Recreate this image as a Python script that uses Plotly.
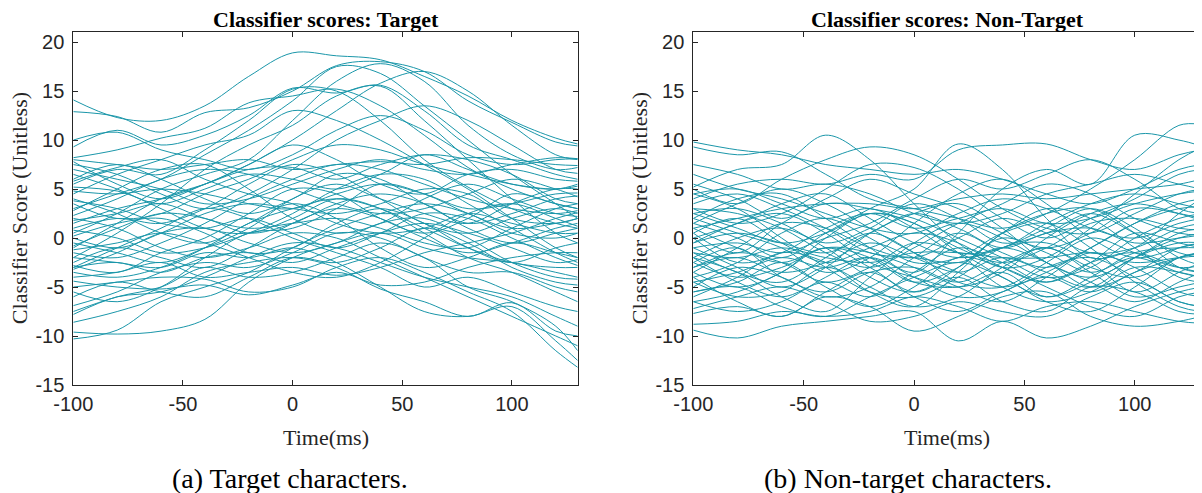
import plotly.graph_objects as go

# ---------------- data ----------------
time_ms = [-100, -80, -60, -40, -20, 0, 20, 40, 60, 80, 100, 120, 130]

# Target characters: classifier scores per trial
t01 = [14.1, 12.3, 12.0, 13.5, 16.5, 18.9, 18.6, 18.2, 16.5, 14.5, 12.0, 10.2, 9.6]
t02 = [12.9, 12.4, 10.8, 12.8, 13.3, 15.0, 17.6, 18.0, 17.0, 14.0, 11.8, 9.8, 9.4]
t03 = [9.3, 11.0, 9.5, 10.5, 12.5, 15.3, 14.8, 15.6, 13.0, 9.5, 8.0, 6.5, 6.0]
t04 = [8.2, 9.0, 10.2, 11.2, 13.8, 14.5, 15.2, 13.5, 10.5, 7.2, 5.0, 3.5, 3.0]
t05 = [5.5, 7.0, 6.5, 9.0, 12.0, 15.2, 15.0, 12.0, 8.0, 5.2, 3.0, 1.5, 1.0]
t06 = [3.0, 4.5, 6.0, 8.5, 11.0, 14.0, 17.5, 16.8, 13.5, 10.0, 6.5, 3.5, 2.0]
t07 = [0.5, 2.5, 5.0, 6.5, 8.0, 12.0, 16.0, 17.8, 16.0, 11.5, 8.5, 7.0, 7.2]
t08 = [-2.0, 0.5, 3.5, 7.0, 9.5, 11.5, 14.5, 15.5, 12.0, 8.0, 4.0, 0.5, -0.5]
t09 = [1.5, 3.0, 4.0, 5.5, 7.5, 10.0, 13.0, 15.8, 17.0, 15.0, 11.5, 8.5, 8.0]
t10 = [4.5, 6.5, 8.0, 9.5, 10.5, 13.0, 12.0, 10.0, 7.5, 5.0, 2.0, -1.0, -2.0]
t11 = [8.0, 7.5, 7.0, 7.5, 8.0, 7.0, 7.5, 7.8, 7.5, 8.2, 8.0, 7.5, 7.4]
t12 = [7.0, 6.0, 5.0, 3.5, 4.0, 5.5, 7.0, 8.0, 7.0, 6.5, 7.5, 8.2, 8.1]
t13 = [5.2, 4.8, 3.5, 5.0, 6.5, 6.0, 5.0, 6.5, 8.5, 7.0, 5.5, 5.0, 5.5]
t14 = [4.8, 4.5, 5.0, 4.5, 3.5, 3.0, 4.5, 5.5, 4.5, 3.0, 3.5, 4.5, 4.6]
t15 = [2.3, 4.0, 6.0, 7.0, 6.5, 5.0, 3.5, 2.5, 3.0, 4.5, 6.0, 5.0, 4.2]
t16 = [1.0, 2.0, 1.5, 3.0, 5.5, 7.5, 6.5, 4.0, 1.5, 0.5, 2.0, 3.0, 2.5]
t17 = [0.0, -1.0, 0.5, 2.5, 3.5, 3.0, 2.5, 3.5, 5.0, 4.5, 2.0, 1.5, 2.0]
t18 = [-0.8, 1.0, 2.5, 2.0, 0.5, 1.5, 3.5, 4.5, 3.5, 1.0, -0.5, 0.5, 1.0]
t19 = [-1.5, -2.0, -0.5, 1.5, 4.0, 6.0, 7.5, 7.0, 5.5, 4.0, 3.0, 2.5, 2.8]
t20 = [-2.5, -1.0, -2.0, -3.0, -1.0, 1.5, 3.0, 2.0, 0.0, -1.5, -0.5, 1.0, 1.5]
t21 = [-3.0, -2.5, -3.5, -2.0, -1.5, -2.5, -1.0, 0.5, 1.5, 0.5, -1.0, -2.5, -2.2]
t22 = [-3.2, -1.5, 0.5, 1.0, -0.5, -1.5, -0.5, 1.5, 2.0, 0.0, -2.5, -4.0, -4.2]
t23 = [-3.5, -4.0, -3.0, -1.0, 1.5, 3.0, 4.0, 3.0, 1.0, -1.0, -2.5, -3.0, -3.0]
t24 = [-4.0, -3.5, -2.5, -4.0, -3.5, -3.0, -3.8, -3.0, -1.5, -0.5, 0.5, 2.0, 2.6]
t25 = [-4.4, -5.0, -5.2, -4.8, -5.8, -4.8, -3.5, -4.8, -4.5, -3.0, -2.0, -1.5, -1.5]
t26 = [-6.9, -5.5, -3.5, -2.5, -3.0, -1.5, 0.5, 0.0, -2.0, -3.5, -3.5, -5.0, -5.5]
t27 = [-7.8, -6.0, -5.5, -4.0, -2.0, -0.5, -1.0, -2.5, -4.0, -5.0, -6.0, -8.0, -9.0]
t28 = [-8.6, -7.5, -6.0, -3.5, -2.5, -2.0, -3.0, -5.2, -6.5, -8.0, -6.6, -9.5, -10.0]
t29 = [-9.6, -9.8, -9.5, -8.3, -4.5, -2.0, -0.5, 0.5, -1.0, -2.0, -2.5, -3.5, -4.0]
t30 = [-10.3, -9.4, -6.5, -5.0, -3.5, -1.0, 1.0, 2.5, 3.5, 2.5, 0.5, 0.0, 0.5]
t31 = [-7.5, -6.0, -5.0, -3.0, -4.0, -3.5, -2.0, -0.5, -2.0, -5.0, -6.5, -9.0, -11.5]
t32 = [-5.0, -4.5, -4.0, -4.2, -5.5, -5.0, -3.0, -2.0, -3.5, -5.5, -7.5, -11.5, -13.2]
t33 = [-2.0, -2.5, -3.0, -1.5, -2.0, -1.0, -2.5, -5.0, -7.5, -8.0, -7.0, -10.5, -12.5]
t34 = [2.0, 1.0, -1.0, -2.0, -1.0, 0.5, 0.0, -2.0, -4.0, -6.0, -8.0, -10.0, -11.0]
t35 = [6.5, 5.0, 3.0, 1.0, 0.5, 2.0, 4.0, 3.0, 0.5, -2.0, -3.5, -5.5, -6.5]
t36 = [3.5, 2.0, 2.5, 4.5, 6.0, 8.0, 9.5, 9.0, 7.5, 6.5, 5.5, 5.0, 5.3]
t37 = [-1.0, 1.5, 4.0, 5.5, 7.0, 7.2, 6.0, 7.5, 8.5, 8.0, 6.5, 4.0, 3.5]
t38 = [5.8, 7.2, 8.0, 6.0, 4.5, 3.5, 1.5, 0.5, 1.0, 2.5, 1.5, 0.5, 0.5]
t39 = [0.8, 0.0, -1.5, -1.0, 0.5, 2.5, 5.0, 6.5, 6.0, 3.5, 1.0, -1.5, -2.5]
t40 = [-1.2, -0.5, 0.5, -0.5, -2.0, -3.5, -4.0, -2.5, 0.0, 2.5, 3.5, 2.0, 1.2]
t41 = [3.8, 3.0, 1.5, 1.0, 2.0, 0.5, -1.0, 0.5, 2.5, 2.0, 0.0, -2.0, -2.8]
t42 = [-3.0, -1.0, 1.0, 3.0, 2.0, 0.0, -1.5, -3.0, -5.0, -4.0, -5.5, -7.0, -7.5]
t43 = [1.8, 2.5, 3.5, 2.0, 1.0, 1.5, 2.0, 1.0, -0.5, -1.0, 1.0, 3.0, 3.5]
t44 = [-0.5, -1.5, -2.5, -1.0, 1.0, 4.0, 5.5, 4.0, 2.5, 1.5, 3.5, 5.0, 5.0]
t45 = [10.0, 10.8, 9.0, 8.0, 7.0, 8.5, 11.0, 12.5, 11.0, 8.5, 7.5, 8.0, 8.1]
t46 = [7.5, 6.5, 4.5, 3.0, 4.5, 7.0, 10.0, 12.0, 13.5, 12.0, 9.5, 7.0, 6.6]
t47 = [6.0, 7.5, 6.0, 4.0, 2.5, 4.0, 6.5, 6.0, 3.5, 1.5, 2.5, 4.0, 4.3]
t48 = [-2.8, -3.5, -1.5, 0.0, 2.5, 5.0, 4.5, 2.0, 0.5, 2.0, 4.5, 3.5, 3.0]
t49 = [4.0, 2.5, 0.5, -0.5, 1.5, 3.5, 2.0, -1.0, -3.0, -2.0, -0.5, -1.5, -2.0]
t50 = [-5.5, -6.5, -5.0, -2.0, 0.5, 1.0, 3.0, 5.5, 4.5, 2.5, 1.0, 1.5, 2.0]
t51 = [7.8, 5.5, 4.0, 5.5, 7.5, 9.5, 8.0, 5.5, 4.5, 6.5, 7.0, 6.0, 5.8]
t52 = [0.2, 1.5, 2.0, 0.5, -1.5, -1.0, 1.5, 3.0, 1.5, -1.0, -2.5, -1.0, -0.5]
t53 = [-6.0, -4.5, -5.5, -6.0, -4.0, -2.0, -2.5, -1.0, 1.0, -0.5, -3.0, -4.5, -4.8]
t54 = [2.8, 5.0, 7.0, 7.5, 5.0, 2.0, 0.5, 1.5, 4.0, 5.5, 4.0, 2.5, 2.2]

# Non-target characters: classifier scores per trial
n01 = [9.8, 9.0, 8.5, 7.5, 7.0, 6.5, 7.0, 6.0, 4.5, 3.5, 5.0, 7.0, 7.5]
n02 = [9.3, 8.5, 8.8, 6.5, 4.0, 3.0, 2.0, 1.0, 2.5, 5.0, 8.0, 11.5, 11.6]
n03 = [5.2, 7.0, 7.5, 10.5, 8.0, 3.5, -0.5, -3.0, -2.0, 1.0, 4.5, 8.0, 9.2]
n04 = [5.0, 3.5, 6.0, 8.0, 9.3, 8.5, 6.0, 3.0, 1.0, 0.5, 2.5, 4.5, 5.0]
n05 = [4.0, 5.5, 6.0, 5.5, 6.5, 6.0, 9.0, 9.5, 9.6, 8.0, 7.0, 8.5, 9.0]
n06 = [2.0, 4.0, 4.5, 2.0, -1.0, -3.5, 0.5, 5.0, 7.0, 5.5, 10.5, 10.0, 9.4]
n07 = [1.5, 0.0, -2.0, 0.5, 3.0, 5.0, 9.6, 7.0, 2.0, -2.0, -1.0, 2.5, 4.0]
n08 = [3.0, 2.5, 1.0, -1.5, -3.0, -1.0, 1.5, 3.5, 5.5, 4.5, 2.0, 0.5, 0.3]
n09 = [0.5, -1.5, 1.5, 3.5, 3.0, 2.0, 0.0, -2.0, -4.0, -3.0, 0.0, 2.0, 2.5]
n10 = [-0.5, 1.5, 2.5, 0.5, -2.5, -4.0, -5.0, -3.5, 0.0, 2.5, 3.5, 2.5, 1.8]
n11 = [-1.0, -3.0, -5.0, -3.0, 0.5, 2.5, 3.5, 1.0, -2.5, -4.0, -2.0, 0.5, 1.0]
n12 = [-2.0, 0.0, 1.0, -1.0, -4.0, -5.5, -3.0, 0.5, 3.0, 2.0, -1.0, -4.0, -4.5]
n13 = [-3.0, -1.5, -2.5, -4.5, -3.0, -0.5, -1.5, -4.0, -6.0, -4.5, -2.0, -0.5, -0.5]
n14 = [-2.5, -4.0, -3.0, -1.0, -1.5, -3.0, -5.0, -6.5, -4.0, -1.5, -3.0, -5.5, -6.0]
n15 = [-4.0, -2.5, 0.5, 2.0, 0.0, -2.5, -2.0, 0.5, 1.5, -1.0, -4.5, -7.0, -7.5]
n16 = [-4.5, -6.0, -5.5, -3.0, -5.0, -7.0, -6.0, -3.0, -1.0, -3.5, -6.0, -5.0, -4.5]
n17 = [-5.5, -5.0, -7.0, -8.0, -6.0, -4.0, -2.5, -4.0, -6.5, -7.5, -5.0, -2.0, -1.5]
n18 = [-7.2, -6.0, -5.0, -6.5, -8.5, -8.0, -6.5, -7.5, -8.0, -6.0, -4.5, -6.5, -7.0]
n19 = [-7.7, -7.0, -8.0, -6.0, -7.0, -9.5, -8.0, -6.0, -5.5, -8.0, -9.0, -8.5, -8.0]
n20 = [-9.4, -10.2, -9.0, -8.5, -8.0, -7.5, -10.5, -8.5, -10.2, -9.0, -7.0, -5.5, -5.0]
n21 = [-8.8, -8.5, -7.5, -8.0, -7.5, -6.0, -7.0, -8.5, -7.0, -6.5, -7.5, -8.5, -8.7]
n22 = [1.0, 2.0, 3.0, 3.5, 3.5, 3.0, 4.0, 4.5, 4.0, 4.5, 5.0, 5.5, 6.0]
n23 = [2.5, 1.0, -0.5, 0.5, 2.5, 1.5, -1.0, -2.5, -1.0, 1.5, 2.0, 1.0, 0.8]
n24 = [-1.5, -2.0, -1.0, -2.0, -2.5, -1.5, -1.5, -2.0, -2.0, -1.5, -2.5, -2.0, -1.8]
n25 = [0.0, 1.5, 3.5, 4.5, 2.0, -0.5, -2.0, -1.0, 1.0, 3.0, 1.0, -2.0, -2.8]
n26 = [-3.5, -5.0, -3.5, 0.0, 2.5, 1.5, -1.5, -5.0, -6.5, -5.5, -3.0, -3.5, -4.0]
n27 = [4.5, 3.0, 0.0, -3.0, -5.5, -6.0, -4.0, -1.0, -0.5, -2.5, -5.5, -3.5, -2.5]
n28 = [-6.0, -4.0, -1.5, -2.5, -5.5, -7.0, -3.5, 0.5, 2.5, 3.0, 0.5, -3.0, -3.5]
n29 = [2.0, 0.5, -1.0, -3.5, -2.0, 1.5, 4.5, 6.0, 3.5, 0.0, -2.0, -1.0, -0.5]
n30 = [-5.0, -3.0, -4.0, -6.0, -5.0, -2.0, 0.5, -1.5, -3.0, -1.0, 1.5, 3.5, 4.0]
n31 = [6.5, 5.0, 4.0, 2.5, 1.0, 0.5, 2.5, 4.0, 3.0, 1.0, 0.0, 1.5, 2.0]
n32 = [0.5, 2.0, -0.5, -2.5, -1.0, 0.5, -0.5, -3.0, -4.5, -2.5, -1.5, -3.0, -3.5]
n33 = [-2.0, -3.5, -6.0, -7.5, -4.0, -0.5, 1.5, 0.0, -2.5, -4.5, -6.5, -4.5, -3.5]
n34 = [3.5, 4.5, 3.0, 1.0, -1.5, -2.0, -2.5, -1.0, -2.5, -5.0, -3.5, -1.0, -0.5]
n35 = [-1.0, -0.5, -1.5, 0.0, 1.5, 4.0, 6.0, 5.0, 6.5, 8.0, 6.0, 3.0, 2.5]
n36 = [-6.5, -7.5, -6.5, -4.0, -2.0, -4.0, -6.0, -5.5, -3.0, -2.0, -4.0, -6.5, -7.0]
n37 = [7.5, 6.5, 5.0, 5.5, 4.5, 2.5, 1.5, 2.5, 4.5, 5.5, 6.5, 5.5, 5.0]
n38 = [-3.5, -1.0, 1.5, 1.0, -1.0, -2.0, 0.0, 2.0, 0.5, -1.5, -1.0, 1.0, 1.5]
n39 = [1.5, 3.5, 5.0, 3.5, 1.0, -1.5, -3.5, -5.0, -3.5, -1.0, 1.5, 3.0, 3.2]
n40 = [-5.5, -4.5, -2.5, -5.0, -7.0, -5.0, -2.0, -3.0, -5.0, -7.0, -8.0, -6.0, -5.5]
n41 = [-2.5, -1.0, -4.0, -5.5, -3.5, -3.0, -4.5, -2.5, -1.0, -3.0, -4.0, -2.0, -1.5]
n42 = [0.0, -2.5, -1.5, 1.0, 2.5, 1.0, 2.0, 3.0, 1.5, 2.0, 3.5, 4.5, 4.8]
n43 = [-1.5, -3.5, -4.5, -2.0, 0.5, -1.5, -4.5, -5.0, -2.5, 0.0, -1.5, -3.0, -2.8]
n44 = [5.5, 4.0, 2.0, 4.0, 6.0, 4.5, 3.0, 0.5, -1.0, 0.5, 3.0, 2.5, 2.0]
n45 = [-4.0, -6.5, -8.0, -5.5, -3.5, -6.0, -7.5, -5.5, -4.0, -5.5, -3.5, -2.0, -1.5]
n46 = [3.0, 1.5, 2.5, 5.0, 7.5, 7.2, 5.0, 2.0, 0.0, 2.0, 4.0, 6.5, 7.0]
n47 = [-3.0, -2.0, -3.5, -2.5, -0.5, -2.0, -3.5, -2.0, -3.5, -5.0, -2.0, 0.0, 0.5]
n48 = [1.0, -1.0, -2.5, -1.0, -2.0, -4.5, -3.0, 0.0, -1.5, -3.5, -2.0, -3.5, -4.0]
n49 = [-0.5, 0.5, -0.5, -1.5, 0.5, 2.5, 1.0, -1.0, 0.5, 1.0, -0.5, 0.0, 0.3]
n50 = [-4.5, -3.5, -2.0, -3.0, -2.0, -4.5, -5.0, -3.5, -6.0, -4.0, -1.5, -1.0, -1.0]
n51 = [2.5, 3.0, 1.5, -0.5, 1.0, 3.5, 2.0, -0.5, 0.5, 2.5, 0.5, -1.5, -2.0]
n52 = [-6.5, -5.5, -3.5, -1.0, -3.0, -5.5, -4.0, -6.5, -7.5, -5.0, -5.5, -7.5, -7.8]
n53 = [4.5, 5.0, 3.5, 2.0, 3.0, 1.0, -1.5, -1.0, 1.5, 3.5, 4.5, 3.5, 3.0]
n54 = [-2.0, -4.5, -6.0, -4.5, -6.0, -3.5, -1.0, -2.5, -4.5, -2.5, 0.5, -0.5, -1.0]

target_curves = [t01, t02, t03, t04, t05, t06, t07, t08, t09, t10, t11, t12, t13, t14, t15, t16,
                 t17, t18, t19, t20, t21, t22, t23, t24, t25, t26, t27, t28, t29, t30, t31, t32,
                 t33, t34, t35, t36, t37, t38, t39, t40, t41, t42, t43, t44, t45, t46, t47, t48,
                 t49, t50, t51, t52, t53, t54]
nontarget_curves = [n01, n02, n03, n04, n05, n06, n07, n08, n09, n10, n11, n12, n13, n14, n15, n16,
                    n17, n18, n19, n20, n21, n22, n23, n24, n25, n26, n27, n28, n29, n30, n31, n32,
                    n33, n34, n35, n36, n37, n38, n39, n40, n41, n42, n43, n44, n45, n46, n47, n48,
                    n49, n50, n51, n52, n53, n54]

x_tickvals = [-100, -50, 0, 50, 100]
x_ticktext = ["-100", "-50", "0", "50", "100"]
y_tickvals = [-15, -10, -5, 0, 5, 10, 15, 20]
y_ticktext = ["-15", "-10", "-5", "0", "5", "10", "15", "20"]

panel_titles = ["Classifier scores: Target", "Classifier scores: Non-Target"]
captions = ["(a) Target characters.", "(b) Non-target characters."]
x_title = "Time(ms)"
y_title = "Classifier Score (Unitless)"

# ---------------- figure ----------------
# The page body has an 8px default margin, so the figure is drawn 8px in
# from the top-left corner; positions below are page pixels minus that offset.
OFF = 8
W, H = 1202 - OFF, 493 - OFF
LINE = "#1a96a9"
AX = "#262626"


def fx(px):
    return (px - OFF) / W


def fy(py):
    return 1 - (py - OFF) / H


fig = go.Figure()
for c in target_curves:
    fig.add_trace(go.Scatter(x=time_ms, y=c, mode="lines", xaxis="x", yaxis="y",
                             line=dict(color=LINE, width=1, shape="spline", smoothing=1.0),
                             showlegend=False, hoverinfo="skip"))
for c in nontarget_curves:
    fig.add_trace(go.Scatter(x=time_ms, y=c, mode="lines", xaxis="x2", yaxis="y2",
                             line=dict(color=LINE, width=1, shape="spline", smoothing=1.0),
                             showlegend=False, hoverinfo="skip"))

ydom = [fy(385), fy(32.3)]
xdom1 = [fx(73.3), fx(577.7)]
xdom2 = [fx(693.3), fx(1201)]

tickfont = dict(family="Liberation Sans, Arial, sans-serif", size=20, color=AX)
common_x = dict(range=[-100, 130], tickmode="array", tickvals=x_tickvals, ticktext=x_ticktext,
                ticks="inside", ticklen=5, tickwidth=1, tickcolor=AX, showline=True, linecolor=AX,
                linewidth=1, mirror="ticks", showgrid=False, zeroline=False, tickfont=tickfont,
                ticklabelstandoff=1, automargin=False)
common_y = dict(range=[-15, 21], tickmode="array", tickvals=y_tickvals, ticktext=y_ticktext,
                ticks="inside", ticklen=5, tickwidth=1, tickcolor=AX, showline=True, linecolor=AX,
                linewidth=1, mirror="ticks", showgrid=False, zeroline=False, tickfont=tickfont,
                ticklabelstandoff=4, automargin=False)

fig.update_layout(
    template="none",
    width=W, height=H, margin=dict(l=0, r=0, t=0, b=0, autoexpand=False),
    paper_bgcolor="white", plot_bgcolor="white",
    xaxis=dict(domain=xdom1, anchor="y", **common_x),
    yaxis=dict(domain=ydom, anchor="x", **common_y),
    xaxis2=dict(domain=xdom2, anchor="y2", **common_x),
    yaxis2=dict(domain=ydom, anchor="x2", **common_y),
)

serif = "Liberation Serif, Times New Roman, serif"
anns = []
centers = [(xdom1[0] + xdom1[1]) / 2, (xdom2[0] + xdom2[1]) / 2]
ylab_x = [fx(19.5), fx(639.5)]
cap_x = [fx(290), fx(908)]
for i in range(2):
    anns.append(dict(text="<b>" + panel_titles[i] + "</b>", x=centers[i], y=1.0,
                     xref="paper", yref="paper", xanchor="center", yanchor="top",
                     yshift=2, showarrow=False, borderpad=0,
                     font=dict(family=serif, size=22, color="black")))
    anns.append(dict(text=x_title, x=centers[i], y=fy(437), xref="paper", yref="paper",
                     xanchor="center", yanchor="middle", showarrow=False,
                     font=dict(family=serif, size=22, color=AX)))
    anns.append(dict(text=y_title, x=ylab_x[i], y=(ydom[0] + ydom[1]) / 2, xref="paper",
                     yref="paper", xanchor="center", yanchor="middle", textangle=-90,
                     showarrow=False, font=dict(family=serif, size=22, color=AX)))
    anns.append(dict(text=captions[i], x=cap_x[i], y=fy(478), xref="paper", yref="paper",
                     xanchor="center", yanchor="middle", showarrow=False,
                     font=dict(family=serif, size=28, color="black")))
fig.update_layout(annotations=anns)

fig.write_html("out.html")
